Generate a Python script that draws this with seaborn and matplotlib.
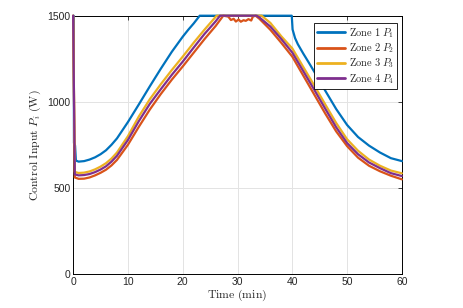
import numpy as np
import pandas as pd
import matplotlib
matplotlib.use("Agg")
import matplotlib.pyplot as plt
import seaborn as sns

sns.set_style("white")
plt.rcParams["mathtext.fontset"] = "cm"
plt.rcParams["font.family"] = ["Liberation Sans", "DejaVu Sans"]

# values (time in min, power in W)
t_zone1 = [0, 0.1, 0.15, 0.35, 0.5, 1, 2, 3, 4, 5, 6, 7, 8, 10, 12, 14, 16, 18, 20, 21, 22, 23.1,
           30, 39.9, 40.05, 40.5, 41, 42, 43, 44, 46, 48, 50, 52, 54, 56, 58, 60]
p_zone1 = [1500, 1500, 760, 745, 658, 652, 655, 664, 677, 695, 718, 750, 787, 882, 985, 1090, 1192, 1290, 1378, 1418, 1455, 1500,
           1500, 1500, 1420, 1370, 1335, 1280, 1228, 1175, 1065, 958, 865, 795, 745, 705, 672, 655]

t_zone2 = [0, 0.3, 1, 2, 3, 4, 5, 6, 7, 8, 10, 12, 14, 16, 18, 20, 22, 24, 26, 27.4, 28.3, 28.8, 29.3, 29.7,
           30.2, 30.6, 31.1, 31.5, 32, 32.5, 32.8, 33.3, 34, 36, 38, 40, 42, 44, 46, 48, 50, 52, 54, 56, 58, 60]
p_zone2 = [1500, 560, 552, 553, 560, 572, 587, 605, 630, 662, 750, 855, 955, 1045, 1128, 1205, 1285, 1365, 1440, 1500, 1495, 1475, 1482, 1466,
           1478, 1465, 1474, 1470, 1480, 1472, 1495, 1500, 1482, 1418, 1342, 1262, 1152, 1042, 932, 828, 742, 675, 628, 596, 570, 549]

t_zone3 = [0, 0.3, 1, 2, 3, 4, 5, 6, 7, 8, 10, 12, 14, 16, 18, 20, 22, 24, 26, 26.2,
           30, 34.4, 36, 38, 40, 42, 44, 46, 48, 50, 52, 54, 56, 58, 60]
p_zone3 = [1500, 592, 586, 588, 595, 607, 623, 643, 670, 705, 800, 915, 1015, 1102, 1184, 1262, 1343, 1420, 1493, 1500,
           1500, 1500, 1458, 1380, 1310, 1202, 1095, 985, 877, 782, 715, 664, 628, 600, 584]

t_zone4 = [0, 0.3, 1, 2, 3, 4, 5, 6, 7, 8, 10, 12, 14, 16, 18, 20, 22, 24, 26, 26.8,
           30, 33.5, 34, 36, 38, 40, 42, 44, 46, 48, 50, 52, 54, 56, 58, 60]
p_zone4 = [1500, 578, 572, 574, 580, 591, 606, 625, 652, 686, 778, 888, 988, 1073, 1156, 1233, 1315, 1395, 1467, 1500,
           1500, 1500, 1490, 1437, 1364, 1286, 1178, 1070, 960, 852, 760, 695, 647, 614, 585, 568]

labels = [r"$\mathrm{Zone\ 1}\ P_1$", r"$\mathrm{Zone\ 2}\ P_2$",
          r"$\mathrm{Zone\ 3}\ P_3$", r"$\mathrm{Zone\ 4}\ P_4$"]
colors = ["#0072BD", "#D95319", "#EDB120", "#7E2F8E"]

frames = []
for lab, t, p in zip(labels, [t_zone1, t_zone2, t_zone3, t_zone4],
                     [p_zone1, p_zone2, p_zone3, p_zone4]):
    frames.append(pd.DataFrame({"time": t, "power": p, "zone": lab}))
df = pd.concat(frames, ignore_index=True)

fig = plt.figure(figsize=(4.63, 3.08), dpi=100)
ax = fig.add_axes([0.158, 0.111, 0.710, 0.838])

sns.lineplot(data=df, x="time", y="power", hue="zone", hue_order=labels,
             palette=dict(zip(labels, colors)), estimator=None, sort=True,
             linewidth=1.6, ax=ax)
# lines sitting on the 1500 W limit stay visible over the frame
for line in ax.get_lines():
    line.set_clip_on(False)
    line.set_solid_joinstyle("round")

ax.set_xlim(0, 60)
ax.set_ylim(0, 1500)
ax.set_xticks([0, 10, 20, 30, 40, 50, 60])
ax.set_yticks([0, 500, 1000, 1500])
ax.grid(True, color="#e3e3e3", linewidth=0.7)
ax.tick_params(direction="in", length=3, width=0.6, labelsize=7.5,
               top=True, right=True, pad=2)
for s in ax.spines.values():
    s.set_color("black")
    s.set_linewidth(0.7)
    s.set_zorder(1)

ax.set_xlabel(r"$\mathrm{Time\ (min)}$", fontsize=8.5, labelpad=1)
ax.set_ylabel(r"$\mathrm{Control\ Input}\ P_i\ \mathrm{(W)}$", fontsize=8.5, labelpad=3)

leg = ax.legend(loc="upper right", bbox_to_anchor=(0.995, 0.985), fontsize=7.5,
                frameon=True, fancybox=False, edgecolor="black", framealpha=1,
                handlelength=2.6, borderpad=0.3, labelspacing=0.15, handletextpad=0.4,
                borderaxespad=0.3)
leg.get_frame().set_linewidth(0.6)
leg.set_zorder(5)
for line in leg.get_lines():
    line.set_linewidth(2.0)

fig.savefig("out.png", dpi=100)
